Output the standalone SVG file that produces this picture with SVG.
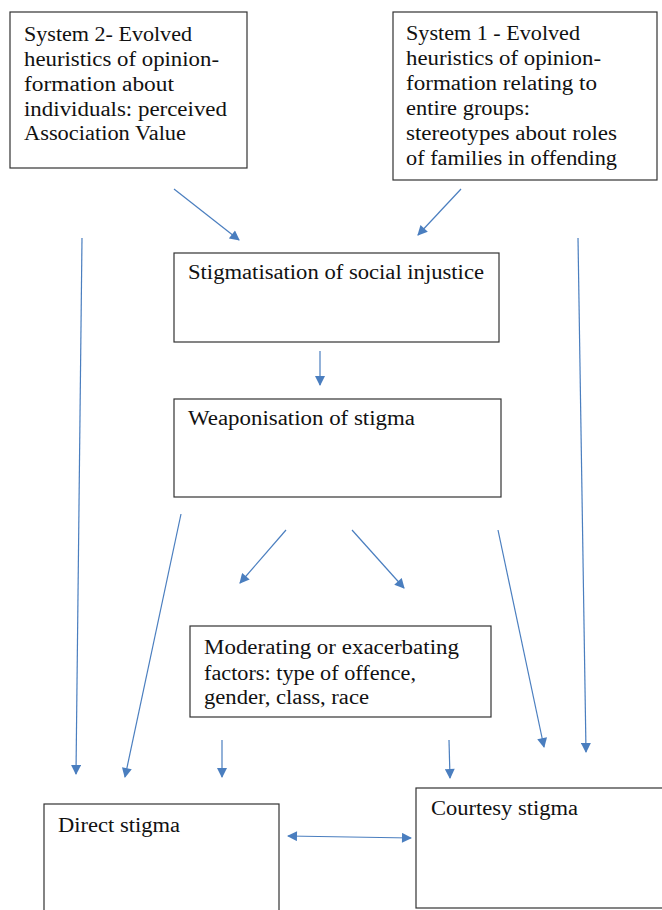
<svg xmlns="http://www.w3.org/2000/svg" width="662" height="910" viewBox="0 0 662 910">
<style>
.box{fill:#fff;stroke:#333;stroke-width:1.2}
.t{font-family:"Liberation Serif","DejaVu Serif",serif;font-size:20px;fill:#111}
.c{stroke:#4a7ebf;stroke-width:1.2;fill:none}
</style>
<defs>
<marker id="ah" viewBox="0 0 10 10" refX="9" refY="5" markerWidth="11" markerHeight="10" markerUnits="userSpaceOnUse" orient="auto-start-reverse">
<path d="M0,0 L10,5 L0,10 Z" fill="#4a7ebf"/>
</marker>
</defs>
<rect width="662" height="910" fill="#fff"/>
<g id="sys2">
<rect class="box" x="10" y="12" width="237" height="156"/>
<text class="t" x="24" y="41" textLength="168" lengthAdjust="spacingAndGlyphs">System 2- Evolved</text>
<text class="t" x="24" y="66" textLength="195" lengthAdjust="spacingAndGlyphs">heuristics of opinion-</text>
<text class="t" x="24" y="91" textLength="150" lengthAdjust="spacingAndGlyphs">formation about</text>
<text class="t" x="24" y="116" textLength="203" lengthAdjust="spacingAndGlyphs">individuals: perceived</text>
<text class="t" x="24" y="140" textLength="162" lengthAdjust="spacingAndGlyphs">Association Value</text>
</g>
<g id="sys1">
<rect class="box" x="393" y="12" width="264" height="168"/>
<text class="t" x="406" y="40" textLength="174" lengthAdjust="spacingAndGlyphs">System 1 - Evolved</text>
<text class="t" x="406" y="65" textLength="195" lengthAdjust="spacingAndGlyphs">heuristics of opinion-</text>
<text class="t" x="406" y="90" textLength="191" lengthAdjust="spacingAndGlyphs">formation relating to</text>
<text class="t" x="406" y="115" textLength="124" lengthAdjust="spacingAndGlyphs">entire groups:</text>
<text class="t" x="406" y="140" textLength="211" lengthAdjust="spacingAndGlyphs">stereotypes about roles</text>
<text class="t" x="406" y="165" textLength="211" lengthAdjust="spacingAndGlyphs">of families in offending</text>
</g>
<g id="stigmatisation">
<rect class="box" x="174" y="253" width="325" height="89"/>
<text class="t" x="188" y="279" textLength="296" lengthAdjust="spacingAndGlyphs">Stigmatisation of social injustice</text>
</g>
<g id="weaponisation">
<rect class="box" x="174" y="399" width="327" height="98"/>
<text class="t" x="188" y="425" textLength="227" lengthAdjust="spacingAndGlyphs">Weaponisation of stigma</text>
</g>
<g id="moderating">
<rect class="box" x="190" y="626" width="301" height="91"/>
<text class="t" x="204" y="654" textLength="255" lengthAdjust="spacingAndGlyphs">Moderating or exacerbating</text>
<text class="t" x="204" y="680" textLength="212" lengthAdjust="spacingAndGlyphs">factors: type of offence,</text>
<text class="t" x="204" y="704" textLength="165" lengthAdjust="spacingAndGlyphs">gender, class, race</text>
</g>
<g id="direct">
<rect class="box" x="44" y="804" width="235" height="120"/>
<text class="t" x="58" y="832" textLength="122" lengthAdjust="spacingAndGlyphs">Direct stigma</text>
</g>
<g id="courtesy">
<rect class="box" x="416" y="788" width="260" height="120"/>
<text class="t" x="431" y="815" textLength="147" lengthAdjust="spacingAndGlyphs">Courtesy stigma</text>
</g>
<g id="connectors">
<line class="c" x1="174" y1="189" x2="239" y2="240" marker-end="url(#ah)"/>
<line class="c" x1="461" y1="189" x2="418" y2="235" marker-end="url(#ah)"/>
<line class="c" x1="320" y1="351" x2="320" y2="385" marker-end="url(#ah)"/>
<line class="c" x1="82" y1="238" x2="76" y2="774" marker-end="url(#ah)"/>
<line class="c" x1="181" y1="514" x2="125" y2="777" marker-end="url(#ah)"/>
<line class="c" x1="286" y1="530" x2="240" y2="583" marker-end="url(#ah)"/>
<line class="c" x1="352" y1="530" x2="404" y2="588" marker-end="url(#ah)"/>
<line class="c" x1="498" y1="530" x2="544" y2="747" marker-end="url(#ah)"/>
<line class="c" x1="578" y1="238" x2="586" y2="752" marker-end="url(#ah)"/>
<line class="c" x1="222" y1="740" x2="222" y2="777" marker-end="url(#ah)"/>
<line class="c" x1="449" y1="740" x2="450" y2="778" marker-end="url(#ah)"/>
<line class="c" x1="288" y1="836" x2="411" y2="838" marker-start="url(#ah)" marker-end="url(#ah)"/>
</g>
</svg>
